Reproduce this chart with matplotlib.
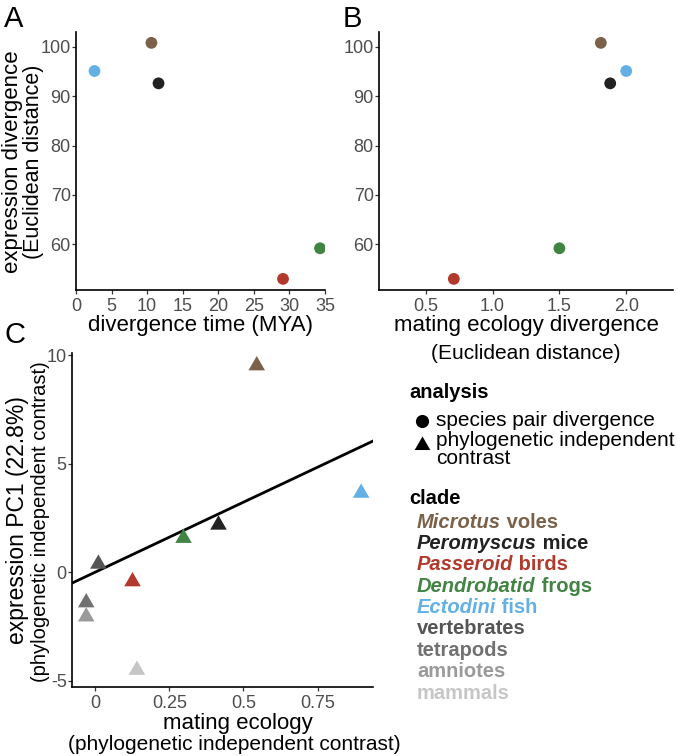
import matplotlib
matplotlib.use("Agg")
import matplotlib.pyplot as plt

plt.rcParams["font.family"] = ["Liberation Sans", "DejaVu Sans"]
plt.rcParams["axes.unicode_minus"] = False

W, H = 677, 756

# clade colours
CLADE_COLORS = {
    "Microtus": "#7b6149",
    "Peromyscus": "#222222",
    "Passeroid": "#b23a2c",
    "Dendrobatid": "#428443",
    "Ectodini": "#62b0e6",
    "vertebrates": "#555555",
    "tetrapods": "#717171",
    "amniotes": "#9a9a9a",
    "mammals": "#c6c6c6",
}

# panels A and B: species pair divergence
PAIR_CLADES = ["Microtus", "Peromyscus", "Passeroid", "Dendrobatid", "Ectodini"]
DIVERGENCE_TIME = [10.6, 11.6, 29.1, 34.3, 2.6]
EXPRESSION_DIV = [100.8, 92.6, 53.0, 59.2, 95.1]
MATING_DIV = [1.81, 1.88, 0.71, 1.50, 2.00]

# panel C: phylogenetic independent contrasts
PIC_CLADES = ["Microtus", "Peromyscus", "Passeroid", "Dendrobatid", "Ectodini",
              "vertebrates", "tetrapods", "amniotes", "mammals"]
PIC_MATING = [0.545, 0.416, 0.126, 0.298, 0.897, 0.011, -0.030, -0.030, 0.141]
PIC_EXPR = [9.52, 2.18, -0.43, 1.57, 3.65, 0.38, -1.40, -2.05, -4.51]
FIT_SLOPE = 6.45  # regression through origin

A_XTICKS = [0, 5, 10, 15, 20, 25, 30, 35]
B_XTICKS = [0.5, 1.0, 1.5, 2.0]
AB_YTICKS = [60, 70, 80, 90, 100]
C_XTICKS = [0, 0.25, 0.5, 0.75]
C_XTICKLABELS = ["0", "0.25", "0.5", "0.75"]
C_YTICKS = [-5, 0, 5, 10]

LEGEND_LABELS = [
    ("Microtus", " voles", "Microtus"),
    ("Peromyscus", " mice", "Peromyscus"),
    ("Passeroid", " birds", "Passeroid"),
    ("Dendrobatid", " frogs", "Dendrobatid"),
    ("Ectodini", " fish", "Ectodini"),
    ("", "vertebrates", "vertebrates"),
    ("", "tetrapods", "tetrapods"),
    ("", "amniotes", "amniotes"),
    ("", "mammals", "mammals"),
]

TICK_COLOR = "#4d4d4d"
TRIANGLE = [(0, 1), (-0.866, -0.5), (0.866, -0.5)]


def fx(x):
    return x / W


def fy(y):
    return 1 - y / H


def add_axes_px(fig, left, top, right, bottom):
    return fig.add_axes([fx(left), fy(bottom), (right - left) / W, (bottom - top) / H])


def style_axes(ax):
    ax.spines[["top", "right"]].set_visible(False)
    for side in ("left", "bottom"):
        ax.spines[side].set_linewidth(1.2)
        ax.spines[side].set_color("black")
    ax.tick_params(length=2.8, width=0.9, color="#333333", labelcolor=TICK_COLOR,
                   labelsize=13)
    ax.tick_params(axis="x", pad=3)
    ax.tick_params(axis="y", pad=1)


def main():
    fig = plt.figure(figsize=(W / 100, H / 100), dpi=100)

    # panel A
    ax_a = add_axes_px(fig, 76, 32, 325, 290)
    style_axes(ax_a)
    ax_a.scatter(DIVERGENCE_TIME, EXPRESSION_DIV, s=72,
                 c=[CLADE_COLORS[c] for c in PAIR_CLADES], linewidths=0, zorder=3)
    ax_a.set_xlim(0, 35)
    ax_a.set_ylim(50.75, 103)
    ax_a.set_xticks(A_XTICKS)
    ax_a.set_yticks(AB_YTICKS)

    # panel B
    ax_b = add_axes_px(fig, 379, 32, 673, 290)
    style_axes(ax_b)
    ax_b.scatter(MATING_DIV, EXPRESSION_DIV, s=72,
                 c=[CLADE_COLORS[c] for c in PAIR_CLADES], linewidths=0, zorder=3)
    ax_b.set_xlim(0.15, 2.35)
    ax_b.set_ylim(50.75, 103)
    ax_b.set_xticks(B_XTICKS)
    ax_b.set_yticks(AB_YTICKS)

    # panel C
    ax_c = add_axes_px(fig, 72, 353, 373, 687)
    style_axes(ax_c)
    xlim = (-0.078, 0.937)
    ax_c.plot(xlim, [FIT_SLOPE * v for v in xlim], color="black", linewidth=2.0, zorder=2)
    ax_c.scatter(PIC_MATING, PIC_EXPR, s=190, marker=TRIANGLE,
                 c=[CLADE_COLORS[c] for c in PIC_CLADES], linewidths=0, zorder=3)
    ax_c.set_xlim(*xlim)
    ax_c.set_ylim(-5.29, 10.1)
    ax_c.set_xticks(C_XTICKS)
    ax_c.set_xticklabels(C_XTICKLABELS)
    ax_c.set_yticks(C_YTICKS)

    # panel letters
    for letter, x, y in (("A", 4, 27), ("B", 343, 27), ("C", 4, 343)):
        fig.text(fx(x), fy(y), letter, fontsize=21, ha="left", va="baseline")

    # axis titles
    fig.text(fx(13), fy(162), "expression divergence", rotation=90, fontsize=16,
             ha="center", va="center")
    fig.text(fx(34), fy(162), "(Euclidean distance)", rotation=90, fontsize=15.5,
             ha="center", va="center")
    fig.text(fx(200), fy(325), "divergence time (MYA)", fontsize=16,
             ha="center", va="center")
    fig.text(fx(526), fy(325), "mating ecology divergence", fontsize=16,
             ha="center", va="center")
    fig.text(fx(526), fy(353), "(Euclidean distance)", fontsize=15,
             ha="center", va="center")
    fig.text(fx(18), fy(520), "expression PC1 (22.8%)", rotation=90, fontsize=16.5,
             ha="center", va="center")
    fig.text(fx(41), fy(522), "(phylogenetic independent contrast)", rotation=90,
             fontsize=14.5, ha="center", va="center")
    fig.text(fx(238), fy(723), "mating ecology", fontsize=16,
             ha="center", va="center")
    fig.text(fx(234), fy(745), "(phylogenetic independent contrast)", fontsize=15,
             ha="center", va="center")

    # legends
    leg = fig.add_axes([0, 0, 1, 1])
    leg.axis("off")
    leg.set_xlim(0, W)
    leg.set_ylim(H, 0)

    leg.text(409, 393, "analysis", fontsize=14.5, weight="bold", va="center")
    leg.scatter([421.5], [421], s=90, marker="o", color="black", linewidths=0)
    leg.scatter([421.5], [445], s=170, marker=TRIANGLE, color="black", linewidths=0)
    leg.text(436, 420, "species pair divergence", fontsize=15, va="center")
    leg.text(436, 440, "phylogenetic independent", fontsize=15, va="center")
    leg.text(436, 458, "contrast", fontsize=15, va="center")

    leg.text(409, 499, "clade", fontsize=14.5, weight="bold", va="center")
    for i, (genus, rest, key) in enumerate(LEGEND_LABELS):
        y = 522 + i * 21.4
        color = CLADE_COLORS[key]
        if genus:
            t1 = leg.text(417, y, genus, fontsize=14.5, weight="bold", style="italic",
                          color=color, va="center")
            leg.annotate(rest, xy=(1, 0.5), xycoords=t1, fontsize=14.5, weight="bold",
                         color=color, va="center", ha="left")
        else:
            leg.text(417, y, rest, fontsize=14.5, weight="bold", color=color, va="center")

    fig.savefig("out.png", dpi=100)
    plt.close(fig)


if __name__ == "__main__":
    main()
